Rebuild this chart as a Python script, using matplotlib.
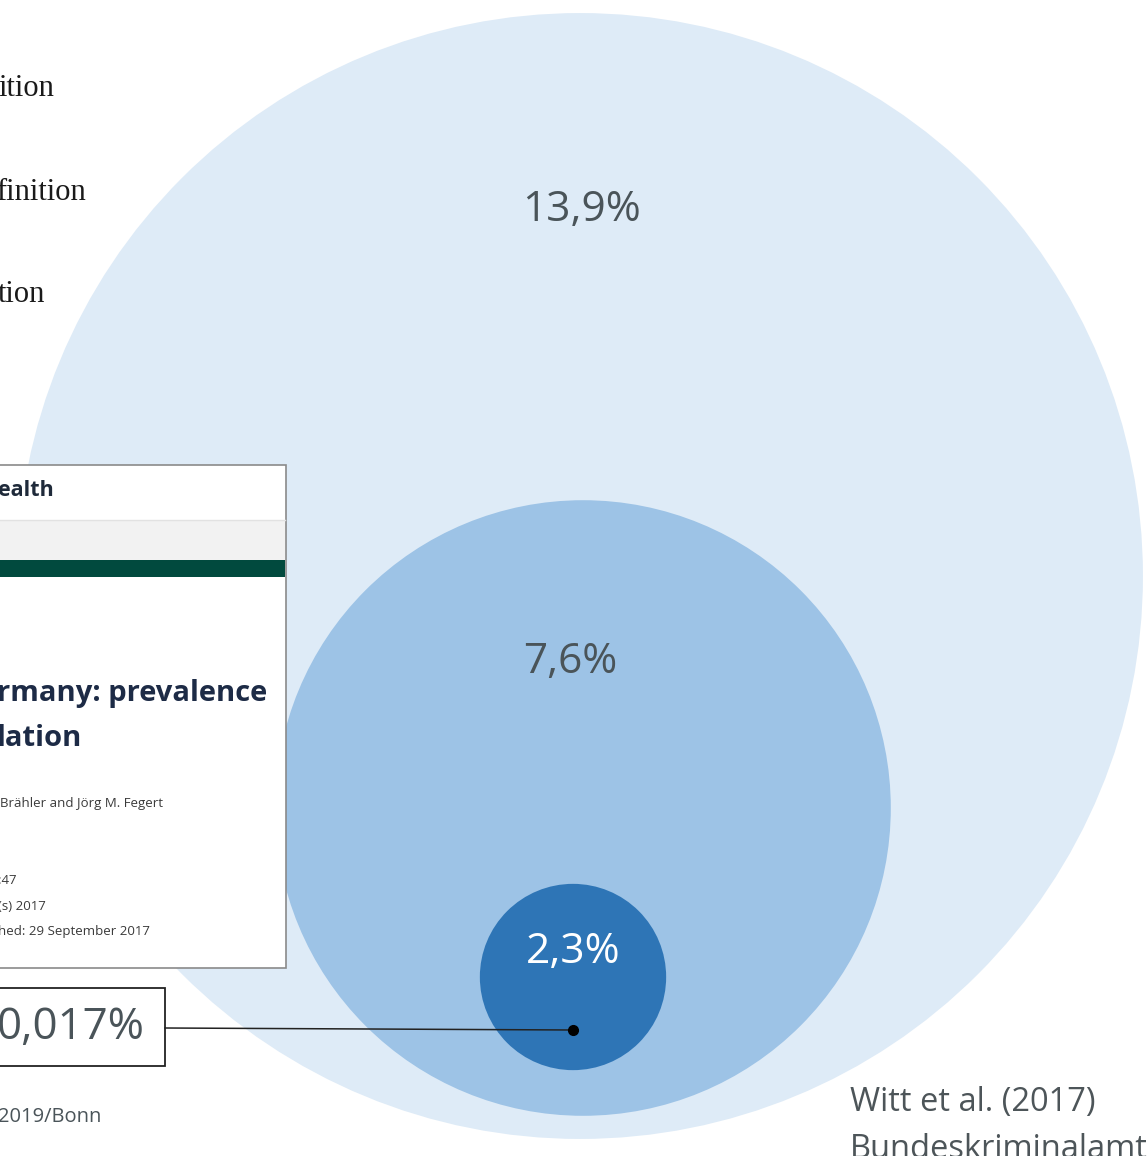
import matplotlib.pyplot as plt
from matplotlib.patches import Circle, Rectangle

# prevalence figures (percent), drawn as nested circles with radius ~ value
values = [13.9, 7.6, 2.3]
labels = ['13,9%', '7,6%', '2,3%']
colors = ['#deebf7', '#9dc3e6', '#2e75b6']
label_colors = ['#4a5459', '#4a5459', '#ffffff']
centers = [(580, 576), (583, 808), (573, 977)]
label_pos = [(581, 210), (570, 662), (573, 952)]
px_per_pct = 40.5

police_label = '0,017%'
left_lines = ['ition', 'finition', 'tion']
sources = ['Witt et al. (2017)', 'Bundeskriminalamt']

fig = plt.figure(figsize=(11.47, 11.56), dpi=100)
ax = fig.add_axes([0, 0, 1, 1])
ax.set_xlim(0, 1147)
ax.set_ylim(1156, 0)
ax.set_aspect('equal')
ax.axis('off')

sans = ['Open Sans', 'DejaVu Sans']

###: nested circles
for v, c, (cx, cy) in zip(values, colors, centers):
    ax.add_patch(Circle((cx, cy), v * px_per_pct, color=c, lw=0, zorder=1))

for lab, col, (x, y) in zip(labels, label_colors, label_pos):
    ax.text(x, y, lab, ha='center', va='center', fontsize=30.5,
            color=col, family=sans, zorder=3)

###: serif text at top left (cut off by slide edge)
for i, t in enumerate(left_lines):
    ax.text(-4 if i == 1 else -2, 89 + i * 103, t, ha='left', va='center',
            fontsize=22, family='Liberation Serif', color='#1a1a1a', zorder=3)

###: inset article screenshot
ax.add_patch(Rectangle((-10, 465), 296, 503, facecolor='white',
                       edgecolor='#8a8a8a', lw=1.2, zorder=4))
ax.add_patch(Rectangle((-10, 520), 295, 40, facecolor='#f2f2f2',
                       edgecolor='none', zorder=5))
ax.plot([-10, 285], [520, 520], color='#e2e2e2', lw=1, zorder=5)
ax.add_patch(Rectangle((-10, 560), 295, 17, facecolor='#014a3e',
                       edgecolor='none', zorder=5))
ax.text(-2, 490, 'ealth', ha='left', va='center', fontsize=15.5,
        fontweight='bold', color='#1f2a3a', family=sans, zorder=6)
ax.text(-3, 693, 'rmany: prevalence', ha='left', va='center', fontsize=21,
        fontweight='bold', color='#1d2b46', family=sans, zorder=6)
ax.text(-3, 739, 'lation', ha='left', va='center', fontsize=21,
        fontweight='bold', color='#1d2b46', family=sans, zorder=6)
ax.text(0, 803, 'Brähler and Jörg M. Fegert', ha='left', va='center',
        fontsize=9.5, color='#3a3a3a', family=sans, zorder=6)
for y, t in zip([880, 906, 931], [':47', '(s) 2017', 'hed: 29 September 2017']):
    ax.text(-2, y, t, ha='left', va='center', fontsize=9.5,
            color='#3a3a3a', family=sans, zorder=6)

###: police statistics callout
ax.add_patch(Rectangle((-10, 988), 175, 78, facecolor='white',
                       edgecolor='#222222', lw=1.3, zorder=4))
ax.text(-3, 1028, police_label, ha='left', va='center', fontsize=31.5,
        color='#4a5459', family=sans, zorder=6)
ax.plot([165, 573], [1028, 1030], color='#222222', lw=1.1, zorder=5)
ax.plot([573], [1030], 'o', color='black', ms=7, zorder=6)

###: footer / sources
ax.text(-2, 1117, '2019/Bonn', ha='left', va='center', fontsize=14.5,
        color='#4a5459', family=sans, zorder=3)
ax.text(850, 1103, sources[0], ha='left', va='center', fontsize=23.5,
        color='#4d5559', family=sans, zorder=3)
ax.text(850, 1150, sources[1], ha='left', va='center', fontsize=23.5,
        color='#4d5559', family=sans, zorder=3)

fig.savefig('out.png', dpi=100)
